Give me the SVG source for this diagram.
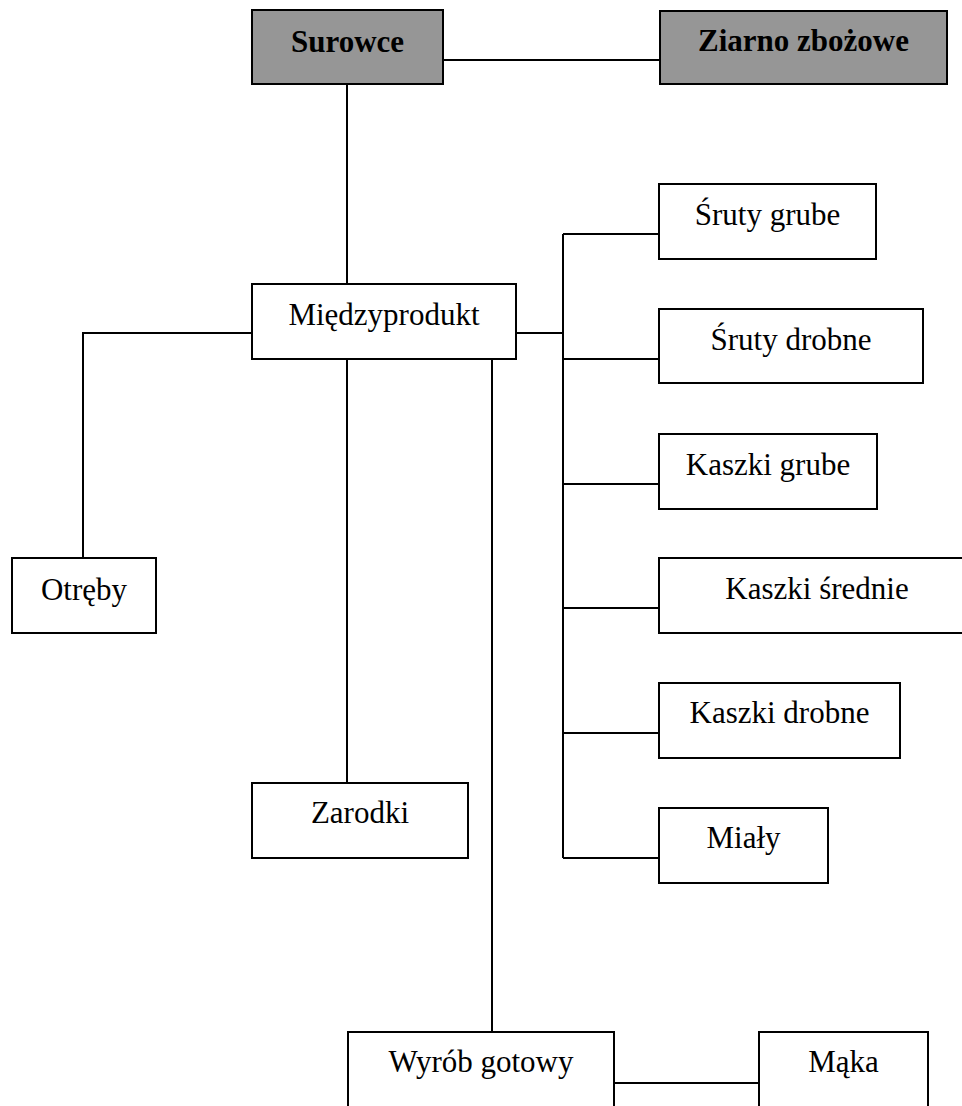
<svg xmlns="http://www.w3.org/2000/svg" width="962" height="1106" viewBox="0 0 962 1106">
<style>
.box{fill:#ffffff;stroke:#000000;stroke-width:2}
.dark{fill:#969696;stroke:#000000;stroke-width:2}
.lbl{font-family:"Liberation Serif","Times New Roman",serif;font-size:31px;fill:#000000;text-anchor:middle}
.bold{font-weight:bold}
.conn{fill:none;stroke:#000000;stroke-width:2}
</style>
<rect width="962" height="1106" fill="#ffffff"/>
<g id="connectors">
<path class="conn" d="M443 60H660"/>
<path class="conn" d="M347 84V284"/>
<path class="conn" d="M252 333H83V558"/>
<path class="conn" d="M347 359V783"/>
<path class="conn" d="M492 359V1032"/>
<path class="conn" d="M516 333H563"/>
<path class="conn" d="M563 234V858"/>
<path class="conn" d="M563 234H659M563 359H659M563 484H659M563 608H659M563 733H659M563 858H659"/>
<path class="conn" d="M614 1083H759"/>
</g>
<g id="surowce"><rect class="dark" x="252" y="10" width="191" height="74"/><text class="lbl bold" x="347.5" y="52">Surowce</text></g>
<g id="ziarno"><rect class="dark" x="660" y="11" width="287" height="73"/><text class="lbl bold" x="803.5" y="51">Ziarno zbożowe</text></g>
<g id="miedzyprodukt"><rect class="box" x="252" y="284" width="264" height="75"/><text class="lbl" x="384" y="325">Międzyprodukt</text></g>
<g id="otreby"><rect class="box" x="12" y="558" width="144" height="75"/><text class="lbl" x="84" y="600">Otręby</text></g>
<g id="zarodki"><rect class="box" x="252" y="783" width="216" height="75"/><text class="lbl" x="360" y="823">Zarodki</text></g>
<g id="sruty-grube"><rect class="box" x="659" y="184" width="217" height="75"/><text class="lbl" x="767.5" y="225">Śruty grube</text></g>
<g id="sruty-drobne"><rect class="box" x="659" y="309" width="264" height="74"/><text class="lbl" x="791" y="350">Śruty drobne</text></g>
<g id="kaszki-grube"><rect class="box" x="659" y="434" width="218" height="75"/><text class="lbl" x="768" y="475">Kaszki grube</text></g>
<g id="kaszki-srednie"><rect class="box" x="659" y="558" width="320" height="75"/><text class="lbl" x="817" y="599">Kaszki średnie</text></g>
<g id="kaszki-drobne"><rect class="box" x="659" y="683" width="241" height="75"/><text class="lbl" x="779.5" y="723">Kaszki drobne</text></g>
<g id="mialy"><rect class="box" x="659" y="808" width="169" height="75"/><text class="lbl" x="743.5" y="848">Miały</text></g>
<g id="wyrob"><rect class="box" x="348" y="1032" width="266" height="90"/><text class="lbl" x="481" y="1072">Wyrób gotowy</text></g>
<g id="maka"><rect class="box" x="759" y="1032" width="169" height="90"/><text class="lbl" x="843.5" y="1072">Mąka</text></g>
</svg>
